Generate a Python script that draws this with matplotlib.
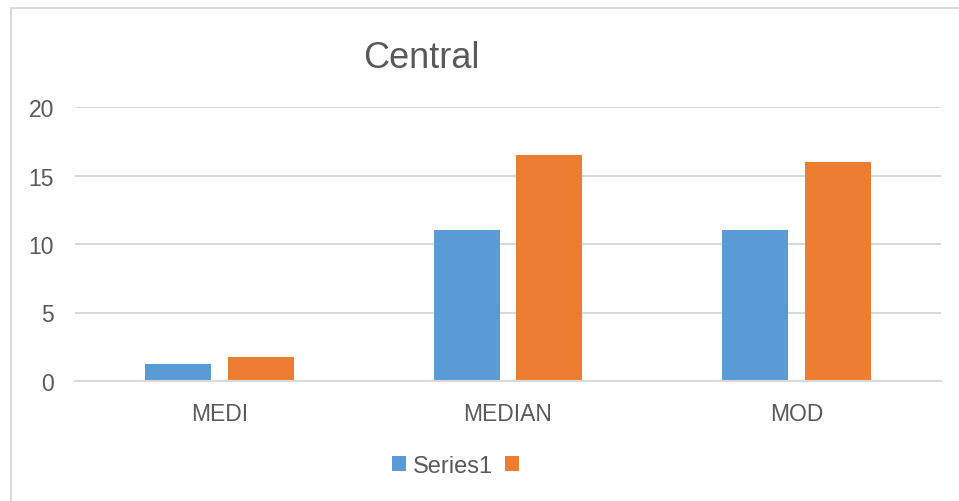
import matplotlib
matplotlib.use("Agg")
import matplotlib.pyplot as plt
from matplotlib.patches import Rectangle, Patch
import numpy as np

categories = ["MEDI", "MEDIAN", "MOD"]
series1 = [1.25, 11.0, 11.0]
series2 = [1.75, 16.5, 16.0]
series_labels = ["Series1", ""]
yticks = [0, 5, 10, 15, 20]

plt.rcParams['font.family'] = ['Liberation Sans', 'DejaVu Sans']
TXT = '#595959'
GRID = '#d9d9d9'
BLUE = '#5B9BD5'
ORANGE = '#ED7D31'

W, H = 959, 502
fig = plt.figure(figsize=(W / 100, H / 100), dpi=100)

# outer chart border
fig.patches.append(Rectangle((11 / W, -0.1), 1.2, (H - 9) / H + 0.1, transform=fig.transFigure,
                             fill=False, edgecolor=GRID, linewidth=1.5))

left, right = 75, 941
top, bottom = 108, 382
ax = fig.add_axes([left / W, (H - bottom) / H, (right - left) / W, (bottom - top) / H])

x = np.arange(len(categories))
bw = 0.228
off = 0.143
ax.bar(x - off, series1, bw, color=BLUE, zorder=3)
ax.bar(x + off, series2, bw, color=ORANGE, zorder=3)

ax.set_xlim(-0.5, len(categories) - 0.5)
ax.set_ylim(0, 20)
ax.set_yticks(yticks)
ax.set_yticklabels([str(v) for v in yticks])
ax.set_xticks(x)
ax.set_xticklabels(categories)
ax.tick_params(axis='both', length=0, labelsize=16.5, colors=TXT)
ax.tick_params(axis='y', pad=15)
ax.tick_params(axis='x', pad=15)
ax.grid(axis='y', color=GRID, linewidth=1.5, zorder=0)
for s in ['top', 'right', 'left']:
    ax.spines[s].set_visible(False)
ax.spines['bottom'].set_color(GRID)
ax.spines['bottom'].set_linewidth(1.5)
ax.spines['bottom'].set_zorder(4)

fig.text(421 / W, 1 - 58 / H, "Central", ha='center', va='center', fontsize=26, color=TXT)

handles = [Patch(facecolor=BLUE, edgecolor='none'), Patch(facecolor=ORANGE, edgecolor='none')]
leg = fig.legend(handles, series_labels, loc='center', bbox_to_anchor=(459 / W, 1 - 467 / H),
                 ncol=2, frameon=False, fontsize=17, handlelength=0.6, handleheight=0.6,
                 handletextpad=0.3, columnspacing=0.5, borderpad=0)
for t in leg.get_texts():
    t.set_color(TXT)

fig.savefig("out.png", dpi=100)
